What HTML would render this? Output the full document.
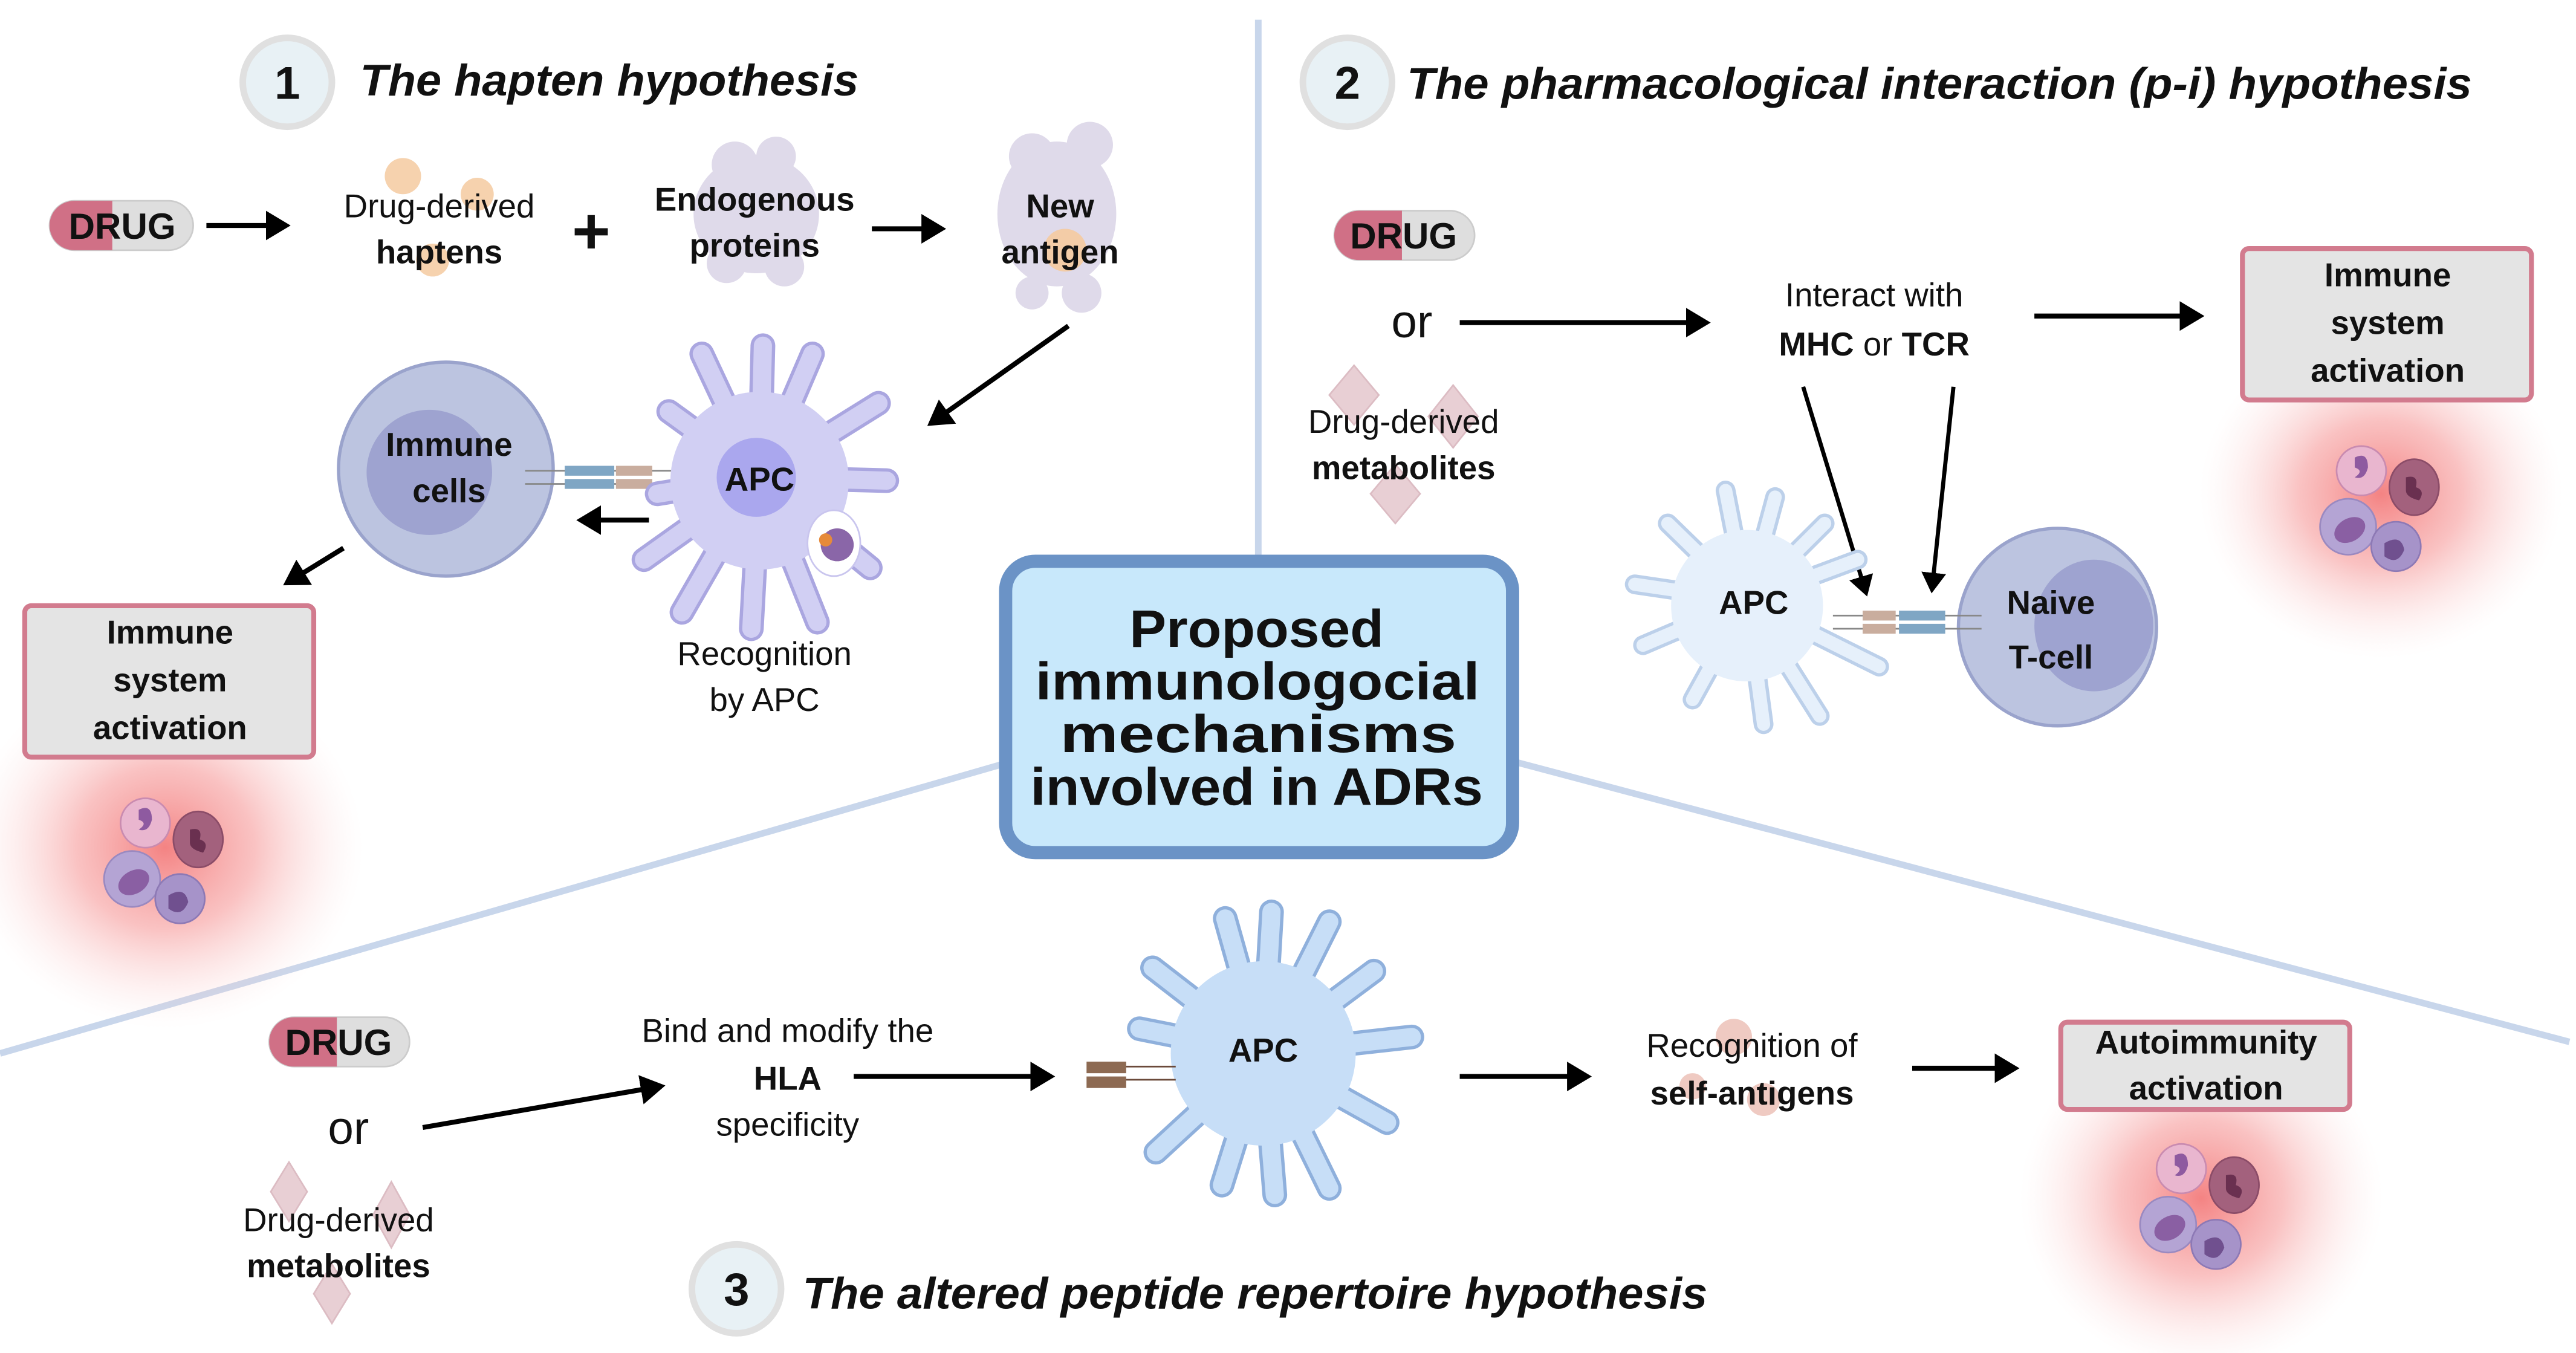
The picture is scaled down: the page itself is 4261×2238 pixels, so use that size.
<!DOCTYPE html>
<html><head><meta charset="utf-8"><style>
html,body{margin:0;padding:0;background:#fff;}
svg{display:block;}
text{font-family:"Liberation Sans",sans-serif;fill:#111;}
.t{font-size:20px;text-anchor:middle;}
.b{font-weight:bold;}
.h{font-size:27px;font-weight:bold;font-style:italic;}
.bx{font-size:20px;font-weight:bold;text-anchor:middle;}
.c{font-size:32px;font-weight:bold;}
</style></head><body>
<svg width="4261" height="2238" viewBox="0 0 1560 822" preserveAspectRatio="none" xmlns="http://www.w3.org/2000/svg">
<defs>
<radialGradient id="glow">
<stop offset="0" stop-color="#f26d6d" stop-opacity="0.85"/>
<stop offset="0.45" stop-color="#f59090" stop-opacity="0.55"/>
<stop offset="1" stop-color="#fbdede" stop-opacity="0"/>
</radialGradient>
<marker id="ar" markerWidth="6" markerHeight="6" refX="4" refY="3" orient="auto" markerUnits="strokeWidth">
<path d="M0,0 L5,3 L0,6 Z" fill="#000"/>
</marker>
<g id="cells">
<circle cx="-12" cy="-12" r="15" fill="#e9b6cf" stroke="#c98bb0"/>
<path d="M-16,-20 q8,-4 8,6 q-2,8 -8,6 q6,-4 0,-6 z" fill="#8e5aa0"/>
<ellipse cx="20" cy="-2" rx="15" ry="17" fill="#a3617d" stroke="#8b4c68"/>
<path d="M15,-8 q8,-2 6,6 q6,2 2,8 q-8,-2 -8,-6 z" fill="#6a3050"/>
<circle cx="-20" cy="22" r="17" fill="#b4a4d4" stroke="#9a89c0"/>
<ellipse cx="-19" cy="24" rx="10" ry="7" fill="#8a5fa3" transform="rotate(-30 -19 24)"/>
<circle cx="9" cy="34" r="15" fill="#a693c9" stroke="#8d79b5"/>
<path d="M2,32 q10,-6 12,4 q-4,10 -12,4 z" fill="#70508f"/>
</g>
</defs>

<g stroke="#c8d6eb" stroke-width="4" fill="none">
<line x1="762" y1="12" x2="762" y2="342"/>
<line x1="0" y1="640" x2="608" y2="464"/>
<line x1="918" y1="463" x2="1556" y2="633"/>
</g>

<ellipse cx="100" cy="515" rx="120" ry="110" fill="url(#glow)"/>
<ellipse cx="1442" cy="300" rx="110" ry="100" fill="url(#glow)"/>
<ellipse cx="1333" cy="728" rx="110" ry="105" fill="url(#glow)"/>
<use href="#cells" x="100" y="512"/>
<use href="#cells" x="1442" y="298"/>
<use href="#cells" x="1333" y="722"/>

<circle cx="174" cy="50" r="27" fill="#e8f1f5" stroke="#e0e0e0" stroke-width="4"/>
<text x="174" y="60" class="b" font-size="28" text-anchor="middle">1</text>
<text x="218" y="58" class="h" textLength="302" lengthAdjust="spacingAndGlyphs">The hapten hypothesis</text>
<circle cx="816" cy="50" r="27" fill="#e8f1f5" stroke="#e0e0e0" stroke-width="4"/>
<text x="816" y="60" class="b" font-size="28" text-anchor="middle">2</text>
<text x="852" y="60" class="h" textLength="645" lengthAdjust="spacingAndGlyphs">The pharmacological interaction (p-i) hypothesis</text>
<circle cx="446" cy="783" r="27" fill="#e8f1f5" stroke="#e0e0e0" stroke-width="4"/>
<text x="446" y="793" class="b" font-size="28" text-anchor="middle">3</text>
<text x="486" y="795" class="h" textLength="548" lengthAdjust="spacingAndGlyphs">The altered peptide repertoire hypothesis</text>

<rect x="30" y="122" width="87" height="30" rx="15" fill="#dedede" stroke="#ccc"/>
<path d="M45,122 H68 V152 H45 A15,15 0 0 1 45,122 Z" fill="#d07086"/>
<text x="74" y="145" class="b" font-size="22" text-anchor="middle">DRUG</text>
<rect x="808" y="128" width="85" height="30" rx="15" fill="#dedede" stroke="#ccc"/>
<path d="M823,128 H849 V158 H823 A15,15 0 0 1 823,128 Z" fill="#d07086"/>
<text x="850" y="151" class="b" font-size="22" text-anchor="middle">DRUG</text>
<rect x="163" y="618" width="85" height="30" rx="15" fill="#dedede" stroke="#ccc"/>
<path d="M178,618 H204 V648 H178 A15,15 0 0 1 178,618 Z" fill="#d07086"/>
<text x="205" y="641" class="b" font-size="22" text-anchor="middle">DRUG</text>

<g stroke="#000" stroke-width="3" fill="none" marker-end="url(#ar)">
<line x1="125" y1="137" x2="173" y2="137"/>
<line x1="528" y1="139" x2="570" y2="139"/>
<line x1="647" y1="198" x2="564" y2="257"/>
<line x1="393" y1="316" x2="352" y2="316"/>
<line x1="208" y1="333" x2="174" y2="354"/>
<line x1="884" y1="196" x2="1033" y2="196"/>
<line x1="1232" y1="192" x2="1332" y2="192"/>
<line x1="1092" y1="235" x2="1130" y2="360" stroke-width="2.5"/>
<line x1="1183" y1="235" x2="1170" y2="358" stroke-width="2.5"/>
<line x1="256" y1="685" x2="400" y2="660"/>
<line x1="517" y1="654" x2="636" y2="654"/>
<line x1="884" y1="654" x2="961" y2="654"/>
<line x1="1158" y1="649" x2="1220" y2="649"/>
</g>

<circle cx="244" cy="107" r="11" fill="#f5caa0" opacity="0.85"/>
<circle cx="289" cy="118" r="10" fill="#f5caa0" opacity="0.85"/>
<circle cx="262" cy="158" r="10" fill="#f5caa0" opacity="0.85"/>
<text x="266" y="132" class="t">Drug-derived</text>
<text x="266" y="160" class="t b">haptens</text>
<text x="358" y="154" class="b" font-size="40" text-anchor="middle">+</text>
<g fill="#dcd6e8" opacity="0.9">
<ellipse cx="458" cy="130" rx="38" ry="36"/><circle cx="445" cy="100" r="14"/><circle cx="470" cy="95" r="12"/><circle cx="440" cy="160" r="12"/><circle cx="475" cy="162" r="12"/>
<ellipse cx="640" cy="130" rx="36" ry="44"/><circle cx="625" cy="95" r="14"/><circle cx="660" cy="88" r="14"/><circle cx="625" cy="178" r="10"/><circle cx="655" cy="178" r="12"/>
</g>
<circle cx="645" cy="152" r="13" fill="#f5caa0" opacity="0.9"/>
<text x="457" y="128" class="t b">Endogenous</text>
<text x="457" y="156" class="t b">proteins</text>
<text x="642" y="132" class="t b">New</text>
<text x="642" y="160" class="t b">antigen</text>

<circle cx="270" cy="285" r="65" fill="#bcc4e0" stroke="#9aa3cc" stroke-width="2"/>
<circle cx="260" cy="287" r="38" fill="#9ea3d0"/>
<text x="272" y="277" class="t b">Immune</text>
<text x="272" y="305" class="t b">cells</text>
<g stroke="#888" stroke-width="1"><line x1="318" y1="286" x2="415" y2="286"/><line x1="318" y1="294" x2="415" y2="294"/></g>
<rect x="342" y="283" width="30" height="6" fill="#7fa6c4"/><rect x="342" y="291" width="30" height="6" fill="#7fa6c4"/>
<rect x="373" y="283" width="22" height="6" fill="#c9ad9e"/><rect x="373" y="291" width="22" height="6" fill="#c9ad9e"/>

<g stroke-linecap="round" fill="none">
<g stroke="#aaa6e0" stroke-width="15">
<path d="M460,290 L425,215 M460,290 L462,210 M460,290 L492,215 M460,290 L532,245 M460,290 L537,292 M460,290 L527,345 M460,290 L495,378 M460,290 L455,382 M460,290 L413,372 M460,290 L390,340 M460,290 L398,300 M460,290 L405,250"/>
</g>
<g stroke="#d1cff3" stroke-width="11">
<path d="M460,290 L425,215 M460,290 L462,210 M460,290 L492,215 M460,290 L532,245 M460,290 L537,292 M460,290 L527,345 M460,290 L495,378 M460,290 L455,382 M460,290 L413,372 M460,290 L390,340 M460,290 L398,300 M460,290 L405,250"/>
</g>
</g>
<circle cx="460" cy="292" r="54" fill="#d1cff3"/>
<circle cx="458" cy="290" r="24" fill="#aaa7ee"/>
<text x="460" y="298" class="t b" font-size="22">APC</text>
<ellipse cx="505" cy="330" rx="16" ry="20" fill="#fff" stroke="#c9c5ee"/>
<circle cx="507" cy="331" r="10" fill="#8a66a8"/><circle cx="500" cy="328" r="4" fill="#e68a3a"/>
<text x="463" y="404" class="t">Recognition</text>
<text x="463" y="432" class="t">by APC</text>

<rect x="15" y="368" width="175" height="92" rx="4" fill="#e4e4e4" stroke="#d27b8e" stroke-width="3"/>
<text x="103" y="391" class="bx">Immune</text>
<text x="103" y="420" class="bx">system</text>
<text x="103" y="449" class="bx">activation</text>

<rect x="609" y="341" width="307" height="177" rx="18" fill="#c8e8fb" stroke="#6b93c6" stroke-width="8"/>
<text x="684" y="393" class="c" textLength="154" lengthAdjust="spacingAndGlyphs">Proposed</text>
<text x="627" y="425" class="c" textLength="269" lengthAdjust="spacingAndGlyphs">immunologocial</text>
<text x="642" y="457" class="c" textLength="240" lengthAdjust="spacingAndGlyphs">mechanisms</text>
<text x="624" y="489" class="c" textLength="274" lengthAdjust="spacingAndGlyphs">involved in ADRs</text>

<text x="855" y="205" font-size="28" text-anchor="middle">or</text>
<g fill="#e8cfd4" stroke="#dcbcc3">
<path d="M820,222 L835,240 L820,258 L805,240 Z"/>
<path d="M880,234 L895,253 L880,272 L865,253 Z"/>
<path d="M845,282 L860,300 L845,318 L830,300 Z"/>
</g>
<text x="850" y="263" class="t">Drug-derived</text>
<text x="850" y="291" class="t b">metabolites</text>
<text x="1135" y="186" class="t">Interact with</text>
<text x="1135" y="216" class="t" font-size="22"><tspan class="b">MHC</tspan> or <tspan class="b">TCR</tspan></text>
<rect x="1358" y="151" width="175" height="92" rx="4" fill="#e4e4e4" stroke="#d27b8e" stroke-width="3"/>
<text x="1446" y="174" class="bx">Immune</text>
<text x="1446" y="203" class="bx">system</text>
<text x="1446" y="232" class="bx">activation</text>

<g stroke-linecap="round" fill="none">
<g stroke="#bcd0ea" stroke-width="12">
<path d="M1058,365 L1045,298 M1058,365 L1075,302 M1058,365 L1105,318 M1058,365 L1125,340 M1058,365 L1138,405 M1058,365 L1102,435 M1058,365 L1068,440 M1058,365 L1025,425 M1058,365 L995,392 M1058,365 L990,355 M1058,365 L1010,318"/>
</g>
<g stroke="#e6f0fb" stroke-width="8">
<path d="M1058,365 L1045,298 M1058,365 L1075,302 M1058,365 L1105,318 M1058,365 L1125,340 M1058,365 L1138,405 M1058,365 L1102,435 M1058,365 L1068,440 M1058,365 L1025,425 M1058,365 L995,392 M1058,365 L990,355 M1058,365 L1010,318"/>
</g>
</g>
<circle cx="1058" cy="368" r="46" fill="#e6f0fb"/>
<text x="1062" y="373" class="t b" font-size="22">APC</text>
<circle cx="1246" cy="381" r="60" fill="#bcc4e0" stroke="#9aa3cc" stroke-width="2"/>
<ellipse cx="1268" cy="380" rx="36" ry="40" fill="#9ea3d0"/>
<text x="1242" y="373" class="t b" font-size="24">Naive</text>
<text x="1242" y="406" class="t b" font-size="24">T-cell</text>
<g stroke="#888" stroke-width="1"><line x1="1110" y1="374" x2="1200" y2="374"/><line x1="1110" y1="382" x2="1200" y2="382"/></g>
<rect x="1128" y="371" width="20" height="6" fill="#c9ad9e"/><rect x="1128" y="379" width="20" height="6" fill="#c9ad9e"/>
<rect x="1150" y="371" width="28" height="6" fill="#7fa6c4"/><rect x="1150" y="379" width="28" height="6" fill="#7fa6c4"/>

<text x="211" y="695" font-size="28" text-anchor="middle">or</text>
<g fill="#e8cfd4" stroke="#dcbcc3">
<path d="M175,706 L186,724 L175,742 L164,724 Z"/>
<path d="M237,718 L248,738 L237,758 L226,738 Z"/>
<path d="M201,768 L212,786 L201,804 L190,786 Z"/>
</g>
<text x="205" y="748" class="t">Drug-derived</text>
<text x="205" y="776" class="t b">metabolites</text>
<text x="477" y="633" class="t">Bind and modify the</text>
<text x="477" y="662" class="t b" font-size="22">HLA</text>
<text x="477" y="690" class="t">specificity</text>

<g stroke-linecap="round" fill="none">
<g stroke="#8fb0dc" stroke-width="15">
<path d="M765,640 L698,588 M765,640 L742,558 M765,640 L770,554 M765,640 L805,560 M765,640 L832,590 M765,640 L855,630 M765,640 L840,682 M765,640 L805,722 M765,640 L772,726 M765,640 L740,720 M765,640 L700,700 M765,640 L690,625"/>
</g>
<g stroke="#c7def7" stroke-width="11">
<path d="M765,640 L698,588 M765,640 L742,558 M765,640 L770,554 M765,640 L805,560 M765,640 L832,590 M765,640 L855,630 M765,640 L840,682 M765,640 L805,722 M765,640 L772,726 M765,640 L740,720 M765,640 L700,700 M765,640 L690,625"/>
</g>
</g>
<circle cx="765" cy="640" r="56" fill="#c7def7"/>
<text x="765" y="645" class="t b" font-size="22">APC</text>
<g stroke="#6b4a3a" stroke-width="1"><line x1="680" y1="648" x2="712" y2="648"/><line x1="680" y1="656" x2="712" y2="656"/></g>
<rect x="658" y="645" width="24" height="7" fill="#8d6a52"/><rect x="658" y="654" width="24" height="7" fill="#8d6a52"/>

<circle cx="1050" cy="630" r="11" fill="#e8b3a8" opacity="0.7"/>
<circle cx="1025" cy="660" r="8" fill="#e8b3a8" opacity="0.7"/>
<circle cx="1068" cy="668" r="10" fill="#e8b3a8" opacity="0.7"/>
<text x="1061" y="642" class="t">Recognition of</text>
<text x="1061" y="671" class="t b">self-antigens</text>
<rect x="1248" y="621" width="175" height="53" rx="4" fill="#e4e4e4" stroke="#d27b8e" stroke-width="3"/>
<text x="1336" y="640" class="bx">Autoimmunity</text>
<text x="1336" y="668" class="bx">activation</text>
</svg>
</body></html>
